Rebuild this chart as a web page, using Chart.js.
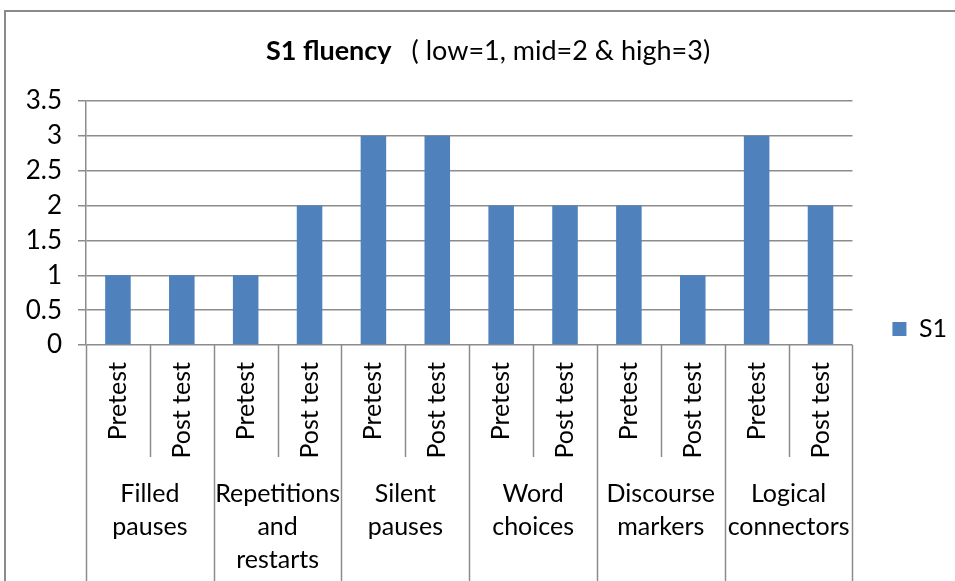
<!DOCTYPE html>
<html>
<head>
<meta charset="utf-8">
<script src="https://cdn.jsdelivr.net/npm/chart.js@4.4.1/dist/chart.umd.min.js"></script>
<style>
  html, body { margin: 0; padding: 0; background: #ffffff; }
  #wrap { width: 955px; height: 581px; position: relative; }
</style>
</head>
<body>
<div id="wrap"><canvas id="c" width="955" height="581"></canvas></div>
<script>
// ---- data ----
const subCategories = ['Pretest', 'Post test', 'Pretest', 'Post test', 'Pretest', 'Post test',
                       'Pretest', 'Post test', 'Pretest', 'Post test', 'Pretest', 'Post test'];
const groupLabels = [
  ['Filled', 'pauses'],
  ['Repetitions', 'and', 'restarts'],
  ['Silent', 'pauses'],
  ['Word', 'choices'],
  ['Discourse', 'markers'],
  ['Logical', 'connectors']
];
const seriesName = 'S1';
const s1Values = [1, 1, 1, 2, 3, 3, 2, 2, 2, 1, 3, 2];
const yMin = 0, yMax = 3.5, yStep = 0.5;
const titleBold = 'S1 fluency';
const titleRest = '( low=1, mid=2 & high=3)';

// ---- style ----
const FONT = 'Lato';
const GRID = '#8c8c8c';
const BAR = '#4f81bd';

const decor = {
  id: 'decor',
  afterLayout(chart) {
    // Excel places the legend further right and centred on the whole chart box
    const l = chart.legend;
    if (l) {
      l.left += 30; l.right += 30;
      l.top -= 12; l.bottom -= 12;
    }
  },
  beforeDraw(chart) {
    const ctx = chart.ctx;
    ctx.save();
    ctx.fillStyle = '#ffffff';
    ctx.fillRect(0, 0, chart.width, chart.height);
    ctx.strokeStyle = '#8a8a8a';
    ctx.lineWidth = 2;
    ctx.strokeRect(5, 11, 1200, 1200);
    ctx.restore();
  },
  afterDraw(chart) {
    const ctx = chart.ctx;
    const x = chart.scales.x;
    ctx.save();
    // category separators (multi-level axis)
    ctx.strokeStyle = GRID;
    ctx.lineWidth = 1.5;
    const perGroup = subCategories.length / groupLabels.length;
    for (let i = 0; i <= subCategories.length; i++) {
      const px = Math.round(x.getPixelForValue(i - 0.5)) + 0.5;
      const full = i % perGroup === 0;
      ctx.beginPath();
      ctx.moveTo(px, x.top);
      ctx.lineTo(px, full ? chart.height : x.bottom);
      ctx.stroke();
    }
    // title: bold part + regular part
    ctx.fillStyle = '#000000';
    ctx.textBaseline = 'middle';
    ctx.textAlign = 'left';
    ctx.font = 'bold 27px ' + FONT;
    const w1 = ctx.measureText(titleBold).width;
    ctx.font = '27px ' + FONT;
    const w2 = ctx.measureText(titleRest).width;
    const gap = 20;
    const start = 488 - (w1 + gap + w2) / 2;
    ctx.font = 'bold 27px ' + FONT;
    ctx.fillText(titleBold, start, 51);
    ctx.font = '27px ' + FONT;
    ctx.fillText(titleRest, start + w1 + gap, 51);
    ctx.restore();
  }
};

new Chart(document.getElementById('c'), {
  type: 'bar',
  data: {
    labels: subCategories,
    datasets: [{
      label: seriesName,
      data: s1Values,
      backgroundColor: BAR,
      borderWidth: 0,
      barPercentage: 0.4,
      categoryPercentage: 1.0,
      xAxisID: 'x',
      yAxisID: 'y'
    }]
  },
  options: {
    responsive: false,
    animation: false,
    devicePixelRatio: 1,
    layout: { padding: { top: 101, right: 28, left: 0, bottom: 0 } },
    plugins: {
      title: { display: false },
      tooltip: { enabled: false },
      legend: {
        display: true,
        position: 'right',
        align: 'center',
        labels: {
          boxWidth: 14, boxHeight: 14, padding: 10,
          color: '#000', font: { family: FONT, size: 25 }
        }
      }
    },
    scales: {
      x: {
        type: 'category',
        position: 'bottom',
        offset: true,
        grid: { display: false, drawTicks: false, tickLength: 0 },
        border: { display: false },
        ticks: {
          minRotation: 90, maxRotation: 90, autoSkip: false,
          padding: 17, color: '#000', font: { family: FONT, size: 25 }
        },
        afterFit(s) { s.height = 112; }
      },
      x2: {
        type: 'category',
        position: 'bottom',
        labels: groupLabels,
        offset: true,
        grid: { display: false, drawTicks: false, tickLength: 0 },
        border: { display: false },
        ticks: {
          maxRotation: 0, minRotation: 0, autoSkip: false,
          padding: 20, color: '#000', font: { family: FONT, size: 25, lineHeight: 1.32 }
        },
        afterFit(s) { s.height = 124; }
      },
      y: {
        min: yMin, max: yMax,
        ticks: {
          stepSize: yStep, padding: 16, color: '#000',
          font: { family: FONT, size: 26 },
          callback: (v) => String(Number(v))
        },
        grid: { color: GRID, lineWidth: 1.5, tickLength: 8, tickColor: GRID },
        border: { display: true, color: GRID, width: 1.5 },
        afterFit(s) { s.width = 86; }
      }
    }
  },
  plugins: [decor]
});
</script>
</body>
</html>
